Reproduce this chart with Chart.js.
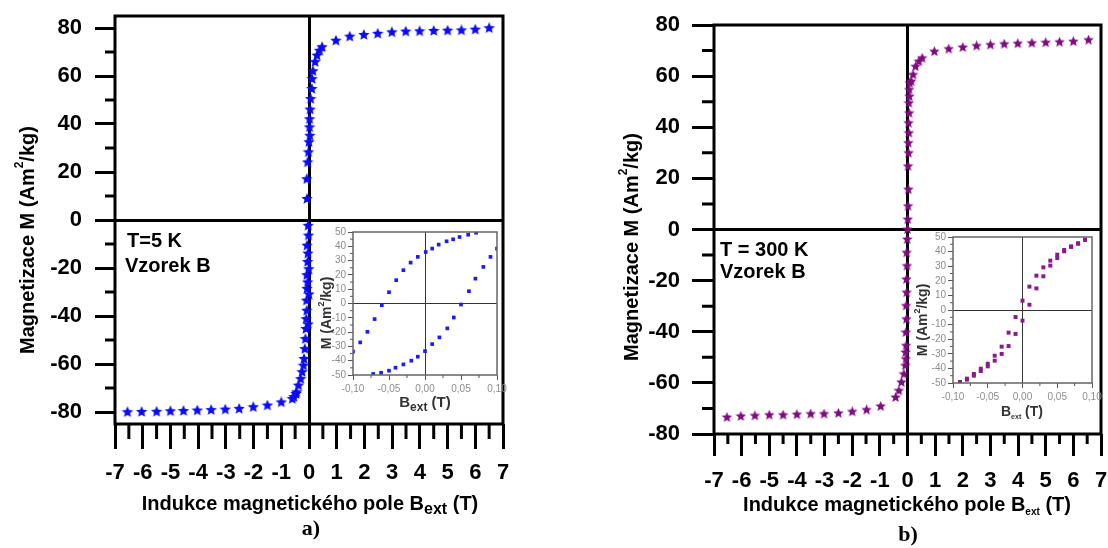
<!DOCTYPE html>
<html>
<head>
<meta charset="utf-8">
<script src="https://cdn.jsdelivr.net/npm/chart.js@4.4.1/dist/chart.umd.min.js"></script>
<style>
    html, body { margin: 0; padding: 0; background: #fff; }
    #wrap { position: relative; width: 1108px; height: 548px; overflow: hidden; }
    canvas { position: absolute; }
</style>
</head>
<body>
<div id="wrap">
    <canvas id="mainA" width="540" height="548" style="left:0px;top:0px;width:540px;height:548px"></canvas>
    <canvas id="mainB" width="548" height="548" style="left:560px;top:0px;width:548px;height:548px"></canvas>
    <canvas id="insetA" width="200" height="192" style="left:315px;top:222px;width:200px;height:192px"></canvas>
    <canvas id="insetB" width="203" height="195" style="left:905px;top:228px;width:203px;height:195px"></canvas>
</div>
<script>
// ---- data ----
// panel a) T = 5 K, main loop (field in T, magnetisation in Am2/kg)
const aField = [-6.55, -6.04, -5.5, -5.0, -4.53, -4.03, -3.53, -3.02, -2.52, -2.01, -1.5, -1.0,
    -0.6, -0.55, -0.47, -0.45, -0.38, -0.3, -0.25, -0.2, -0.18, -0.15, -0.13, -0.11, -0.1, -0.08,
    -0.09, -0.07, -0.08, -0.05, -0.07, -0.03,
    -0.02, -0.04, -0.01, -0.05, 0.0, -0.03,
    -0.07, -0.08, -0.05, -0.02, 0.0, 0.03, 0.02, 0.02, 0.04, 0.06, 0.1, 0.11, 0.14, 0.22, 0.29, 0.38, 0.47,
    0.97, 1.47, 1.98, 2.48, 2.99, 3.49, 3.99, 4.5, 5.0, 5.5, 6.0, 6.5];
const aMagn = [-80.1, -80.0, -79.9, -79.7, -79.6, -79.4, -79.2, -79.0, -78.7, -78.0, -77.3, -76.0,
    -74.6, -73.8, -72.5, -71.8, -69.0, -66.3, -63.4, -60.7, -57.9, -53.8, -49.6, -45.4, -41.3, -37.8,
    -33.6, -28.7, -23.0, -17.5, -10.7, -2.4,
    -6.5, -14.0, -20.5, -26.0, -31.0, -43.5,
    8.75, 17.0, 24.0, 28.2, 32.4, 35.1, 38.6, 42.0, 46.0, 50.4, 54.6, 58.7, 62.0, 65.8, 68.5, 70.5, 72.0,
    74.7, 76.4, 77.1, 77.6, 78.2, 78.5, 78.6, 78.75, 78.9, 79.0, 79.3, 79.9];

// panel b) T = 300 K, main loop
const bField = [-6.53, -6.03, -5.52, -5.0, -4.5, -4.0, -3.5, -3.02, -2.5, -2.0, -1.48, -0.97, -0.43, -0.31, -0.22, -0.13,
    -0.08, -0.06, -0.07, -0.05, -0.06, -0.04, -0.05, -0.03, -0.04, -0.02, -0.03, -0.01, 0.0,
    0.01, 0.02, 0.03, 0.02, 0.04, 0.03, 0.05, 0.04, 0.06, 0.05, 0.07, 0.06, 0.08,
    0.13, 0.2, 0.29, 0.41, 0.53, 0.97, 1.49, 2.0, 2.5, 3.0, 3.5, 3.99, 4.5, 5.0, 5.5, 6.0, 6.55];
const bMagn = [-73.5, -73.1, -72.9, -72.6, -72.6, -72.4, -72.2, -72.2, -71.9, -71.3, -70.6, -69.2, -65.7, -63.1, -59.8, -56.6,
    -53.3, -50.7, -48.1, -45.5, -40.3, -35.1, -29.9, -24.7, -19.5, -14.3, -9.1, -3.9, 0.0,
    3.9, 9.1, 15.6, 24.7, 29.9, 33.8, 37.7, 41.6, 45.5, 49.4, 52.0, 54.6, 57.2,
    57.9, 60.5, 63.7, 65.7, 67.0, 69.6, 70.6, 71.2, 71.8, 72.2, 72.5, 72.7, 72.9, 73.1, 73.3, 73.5, 74.1];

// inset a) low-field loop, two branches
const insetADownField = [0.071, 0.06, 0.048, 0.039, 0.03, 0.019, 0.01, 0.001, -0.01, -0.02, -0.03, -0.04, -0.05, -0.06, -0.07, -0.08, -0.09, -0.1];
const insetADownMagn = [49.5, 48.1, 46.5, 44.9, 43.5, 41.2, 38.4, 36.0, 32.6, 28.6, 23.3, 16.3, 7.9, -1.2, -10.9, -19.8, -27.2, -33.7];
const insetAUpField = [-0.072, -0.061, -0.05, -0.041, -0.03, -0.019, -0.01, 0.0, 0.01, 0.02, 0.031, 0.04, 0.05, 0.061, 0.07, 0.081, 0.091, 0.1];
const insetAUpMagn = [-49.3, -48.4, -47.0, -44.9, -42.6, -40.0, -37.2, -33.3, -28.4, -23.7, -17.4, -9.8, -0.7, 8.6, 17.4, 25.6, 32.6, 38.4];

// inset b) low-field loop
const insetBField = [-0.09, -0.08, -0.07, -0.06, -0.05, -0.04, -0.03, -0.02, -0.01, 0.0, 0.01, 0.02, 0.03, 0.04, 0.05, 0.06, 0.07, 0.08, 0.09];
const insetBDownMagn = [-49.3, -47.0, -43.8, -40.2, -36.8, -31.3, -25.1, -15.5, -4.8, 6.4, 16.0, 23.5, 29.2, 33.8, 37.9, 41.1, 43.6, 45.7, 48.2];
const insetBUpMagn = [-49.8, -47.7, -45.0, -41.8, -38.6, -34.7, -30.1, -24.7, -16.4, -7.3, 3.6, 14.8, 23.1, 30.4, 35.6, 40.2, 43.2, 45.4, 48.0];

// ticks
const xTicks = [-7, -6, -5, -4, -3, -2, -1, 0, 1, 2, 3, 4, 5, 6, 7];
const xMinor = [-6.5, -5.5, -4.5, -3.5, -2.5, -1.5, -0.5, 0.5, 1.5, 2.5, 3.5, 4.5, 5.5, 6.5];
const yTicks = [-80, -60, -40, -20, 0, 20, 40, 60, 80];
const yMinor = [-70, -50, -30, -10, 10, 30, 50, 70];
const insetXTicks = [-0.1, -0.05, 0, 0.05, 0.1];
const insetXMinor = [-0.075, -0.025, 0.025, 0.075];
const insetYTicks = [-50, -40, -30, -20, -10, 0, 10, 20, 30, 40, 50];
const insetYMinor = [-45, -35, -25, -15, -5, 5, 15, 25, 35, 45];

const SANS = "'Liberation Sans', Arial, sans-serif";
const SERIF = "'Liberation Serif', 'Times New Roman', serif";

function pairs(xs, ys) {
    return xs.map((v, i) => ({ x: v, y: ys[i] }));
}

// filled five-point star used as point marker
function makeStar(color, size) {
    const c = document.createElement('canvas');
    c.width = size; c.height = size;
    const g = c.getContext('2d');
    const r = size / 2, ri = r * 0.45;
    g.fillStyle = color;
    g.beginPath();
    for (let i = 0; i < 10; i++) {
        const rad = i % 2 === 0 ? r : ri;
        const ang = -Math.PI / 2 + i * Math.PI / 5;
        const px = r + rad * Math.cos(ang), py = r + rad * Math.sin(ang);
        if (i === 0) g.moveTo(px, py); else g.lineTo(px, py);
    }
    g.closePath();
    g.fill();
    return c;
}

function drawRich(ctx, t, ox, oy) {
    ctx.save();
    ctx.translate(t.x - ox, t.y - oy);
    if (t.rot) ctx.rotate(t.rot);
    ctx.fillStyle = t.color || '#000';
    ctx.textBaseline = 'middle';
    ctx.textAlign = 'left';
    let w = 0;
    t.parts.forEach(p => { ctx.font = p.font; w += ctx.measureText(p.s).width; });
    let x = t.align === 'left' ? 0 : -w / 2;
    t.parts.forEach(p => {
        ctx.font = p.font;
        ctx.fillText(p.s, x, p.dy || 0);
        x += ctx.measureText(p.s).width;
    });
    ctx.restore();
}

// frame, minor ticks and free text
function decor(cfg) {
    return {
        id: 'decor',
        afterDraw(chart) {
            const ctx = chart.ctx, a = chart.chartArea;
            const xs = chart.scales.x, ys = chart.scales.y;
            ctx.save();
            ctx.strokeStyle = cfg.tickColor;
            ctx.lineWidth = cfg.tickWidth;
            ctx.beginPath();
            cfg.minorX.forEach(v => {
                const p = xs.getPixelForValue(v);
                ctx.moveTo(p, a.bottom);
                ctx.lineTo(p, a.bottom + cfg.minorLenX);
            });
            cfg.minorY.forEach(v => {
                const p = ys.getPixelForValue(v);
                ctx.moveTo(a.left, p);
                ctx.lineTo(a.left - cfg.minorLenY, p);
            });
            ctx.stroke();
            ctx.strokeStyle = cfg.frameColor;
            ctx.lineWidth = cfg.frameWidth;
            ctx.strokeRect(a.left, a.top, a.right - a.left, a.bottom - a.top);
            ctx.restore();
            cfg.texts.forEach(t => drawRich(ctx, t, cfg.ox, cfg.oy));
        }
    };
}

// fixed axis sizes, no extra room for the end labels
function fitX(h) {
    return s => { s.height = h; s.paddingLeft = 0; s.paddingRight = 0; };
}
function fitY(w) {
    return s => { s.width = w; s.paddingTop = 0; s.paddingBottom = 0; };
}

function mainChart(id, points, color, o) {
    const zeroOnly = c => (c.tick && c.tick.value === 0) ? '#000' : 'rgba(0,0,0,0)';
    return new Chart(document.getElementById(id), {
        type: 'scatter',
        data: {
            datasets: [{
                data: points,
                pointStyle: makeStar(color, o.star),
                pointRadius: 6,
                showLine: false
            }]
        },
        options: {
            responsive: false,
            animation: false,
            layout: { padding: { left: 0, top: o.top, right: o.right, bottom: 0 } },
            plugins: { legend: { display: false }, tooltip: { enabled: false } },
            scales: {
                x: {
                    type: 'linear',
                    min: -7,
                    max: 7,
                    afterBuildTicks: s => { s.ticks = xTicks.map(v => ({ value: v })); },
                    afterFit: fitX(o.xHeight),
                    border: { display: false },
                    grid: { color: zeroOnly, tickColor: '#000', lineWidth: 3, tickWidth: 3, tickLength: o.xTickLen },
                    ticks: { color: '#000', font: { family: SANS, size: 22, weight: 'bold' }, maxRotation: 0, autoSkip: false, padding: o.xPad }
                },
                y: {
                    type: 'linear',
                    min: o.yMin,
                    max: o.yMax,
                    afterBuildTicks: s => { s.ticks = yTicks.map(v => ({ value: v })); },
                    afterFit: fitY(o.yWidth),
                    border: { display: false },
                    grid: { color: zeroOnly, tickColor: '#000', lineWidth: 3, tickWidth: 3, tickLength: o.yTickLen },
                    ticks: { color: '#000', font: { family: SANS, size: 22, weight: 'bold' }, autoSkip: false, padding: o.yPad }
                }
            }
        },
        plugins: [decor({
            ox: o.ox, oy: 0,
            frameColor: '#000', frameWidth: 3,
            tickColor: '#000', tickWidth: 3,
            minorX: xMinor, minorY: yMinor, minorLenX: o.xMinorLen, minorLenY: o.yMinorLen,
            texts: o.texts
        })]
    });
}

function insetChart(id, datasets, o) {
    const zeroOnly = c => (c.tick && c.tick.value === 0) ? '#333' : 'rgba(0,0,0,0)';
    return new Chart(document.getElementById(id), {
        type: 'scatter',
        data: { datasets: datasets },
        options: {
            responsive: false,
            animation: false,
            layout: { padding: { left: 0, top: o.top, right: o.right, bottom: 0 } },
            plugins: { legend: { display: false }, tooltip: { enabled: false } },
            scales: {
                x: {
                    type: 'linear',
                    min: -0.1,
                    max: 0.1,
                    afterBuildTicks: s => { s.ticks = insetXTicks.map(v => ({ value: v })); },
                    afterFit: fitX(o.xHeight),
                    border: { display: false },
                    grid: { color: zeroOnly, tickColor: '#555', lineWidth: 1, tickLength: 5 },
                    ticks: {
                        color: '#8c8c8c', font: { family: SANS, size: 10 }, maxRotation: 0, autoSkip: false, padding: 3,
                        callback: v => v.toFixed(2).replace('.', ',')
                    }
                },
                y: {
                    type: 'linear',
                    min: -50,
                    max: 50,
                    afterBuildTicks: s => { s.ticks = insetYTicks.map(v => ({ value: v })); },
                    afterFit: fitY(o.yWidth),
                    border: { display: false },
                    grid: { color: zeroOnly, tickColor: '#555', lineWidth: 1, tickLength: 5 },
                    ticks: { color: '#8c8c8c', font: { family: SANS, size: 10 }, autoSkip: false, padding: 2 }
                }
            }
        },
        plugins: [decor({
            ox: o.ox, oy: o.oy,
            frameColor: '#666', frameWidth: 1.5,
            tickColor: '#555', tickWidth: 1,
            minorX: insetXMinor, minorY: insetYMinor, minorLenX: 3, minorLenY: 3,
            texts: o.texts
        })]
    });
}

const B20 = 'bold 20px ' + SANS;

// ---- panel a ----
mainChart('mainA', pairs(aField, aMagn), '#0a0aff', {
    ox: 0, top: 16, right: 37, yWidth: 115, xHeight: 124,
    yMin: -85, yMax: 85, star: 12,
    xTickLen: 25, yTickLen: 20, xMinorLen: 15, yMinorLen: 10, xPad: 11, yPad: 13,
    texts: [
        { x: 127, y: 241, align: 'left', parts: [{ s: 'T=5 K', font: B20 }] },
        { x: 125, y: 266, align: 'left', parts: [{ s: 'Vzorek B', font: B20 }] },
        { x: 28, y: 240, rot: -Math.PI / 2, parts: [
            { s: 'Magnetizace M (Am', font: B20 },
            { s: '2', font: 'bold 12px ' + SANS, dy: -8 },
            { s: '/kg)', font: B20 }] },
        { x: 310, y: 504, parts: [
            { s: 'Indukce magnetického pole B', font: B20 },
            { s: 'ext', font: 'bold 16px ' + SANS, dy: 6 },
            { s: ' (T)', font: B20 }] },
        { x: 311, y: 529, parts: [{ s: 'a)', font: 'bold 22px ' + SERIF }] }
    ]
});

insetChart('insetA', [
    { data: pairs(insetADownField, insetADownMagn), pointStyle: 'rect', pointRadius: 2.6, backgroundColor: '#1a1aff', borderWidth: 0 },
    { data: pairs(insetAUpField, insetAUpMagn), pointStyle: 'rect', pointRadius: 2.6, backgroundColor: '#1a1aff', borderWidth: 0 }
], {
    ox: 315, oy: 222, top: 10, right: 18, yWidth: 38, xHeight: 39,
    texts: [
        { x: 327, y: 313, rot: -Math.PI / 2, color: '#333', parts: [
            { s: 'M (Am', font: 'bold 14px ' + SANS },
            { s: '2', font: 'bold 9px ' + SANS, dy: -5 },
            { s: '/kg)', font: 'bold 14px ' + SANS }] },
        { x: 425, y: 403, color: '#333', parts: [
            { s: 'B', font: 'bold 15px ' + SANS },
            { s: 'ext', font: 'bold 12px ' + SANS, dy: 5 },
            { s: ' (T)', font: 'bold 15px ' + SANS }] }
    ]
});

// ---- panel b ----
mainChart('mainB', pairs(bField, bMagn), '#820a82', {
    ox: 560, top: 25, right: 6, yWidth: 154, xHeight: 114,
    yMin: -80, yMax: 80, star: 11,
    xTickLen: 22, yTickLen: 22, xMinorLen: 10, yMinorLen: 12, xPad: 12, yPad: 12,
    texts: [
        { x: 720, y: 250, align: 'left', parts: [{ s: 'T = 300 K', font: B20 }] },
        { x: 720, y: 272, align: 'left', parts: [{ s: 'Vzorek B', font: B20 }] },
        { x: 632, y: 247, rot: -Math.PI / 2, parts: [
            { s: 'Magnetizace M (Am', font: B20 },
            { s: '2', font: 'bold 12px ' + SANS, dy: -8 },
            { s: '/kg)', font: B20 }] },
        { x: 907, y: 505, parts: [
            { s: 'Indukce magnetického pole B', font: B20 },
            { s: 'ext', font: 'bold 10px ' + SANS, dy: 7 },
            { s: ' (T)', font: B20 }] },
        { x: 908, y: 535, parts: [{ s: 'b)', font: 'bold 22px ' + SERIF }] }
    ]
});

insetChart('insetB', [
    { data: pairs(insetBField, insetBDownMagn), pointStyle: 'rect', pointRadius: 2.8, backgroundColor: '#8a1a8a', borderWidth: 0 },
    { data: pairs(insetBField, insetBUpMagn), pointStyle: 'rect', pointRadius: 2.8, backgroundColor: '#8a1a8a', borderWidth: 0 }
], {
    ox: 905, oy: 228, top: 9, right: 16, yWidth: 48, xHeight: 40,
    texts: [
        { x: 923, y: 320, rot: -Math.PI / 2, color: '#333', parts: [
            { s: 'M (Am', font: 'bold 14px ' + SANS },
            { s: '2', font: 'bold 9px ' + SANS, dy: -5 },
            { s: '/kg)', font: 'bold 14px ' + SANS }] },
        { x: 1022, y: 412, color: '#333', parts: [
            { s: 'B', font: 'bold 14px ' + SANS },
            { s: 'ext', font: 'bold 7px ' + SANS, dy: 5 },
            { s: ' (T)', font: 'bold 14px ' + SANS }] }
    ]
});
</script>
</body>
</html>
